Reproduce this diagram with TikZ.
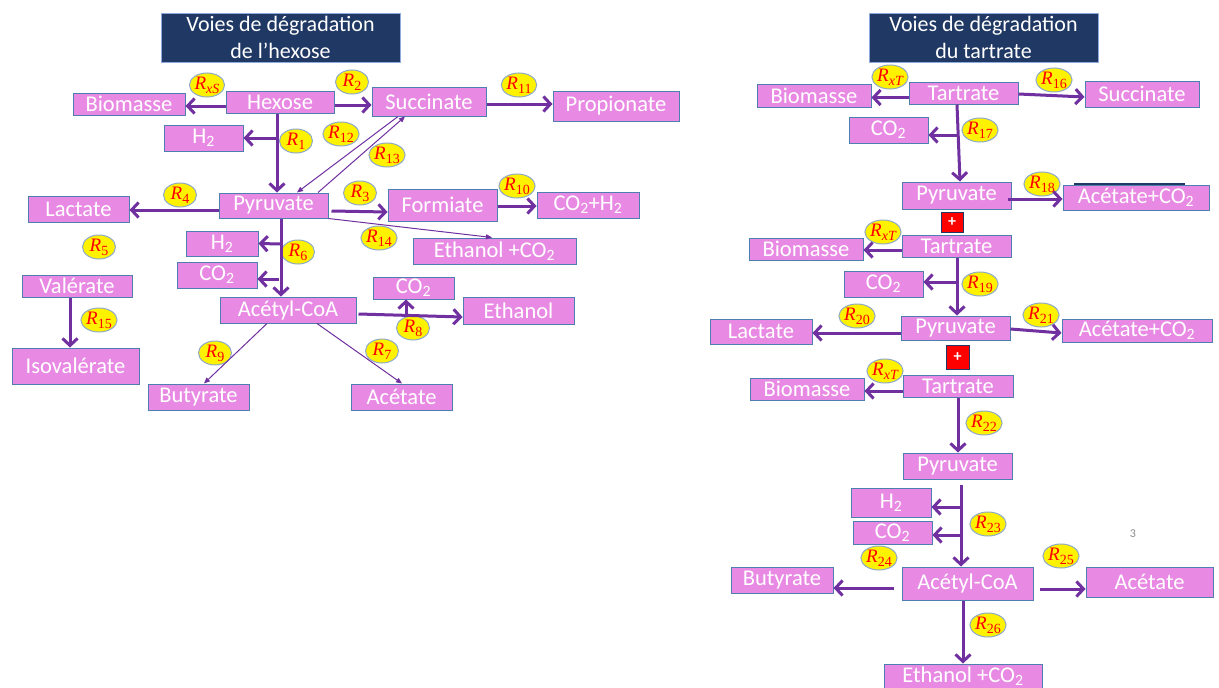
\documentclass[tikz,border=0pt]{standalone}
\usepackage{fontspec}
\setmainfont{Carlito}
\newfontfamily\rfont{Liberation Serif}
\usetikzlibrary{arrows.meta,shapes.geometric}
\definecolor{boxpink}{HTML}{E88AE4}
\definecolor{boxedge}{HTML}{4F7FB0}
\definecolor{arrcol}{HTML}{7030A0}
\definecolor{navy}{HTML}{203864}
\definecolor{navyedge}{HTML}{8FAADC}
\definecolor{elledge}{HTML}{8EA9C8}
\definecolor{pagegrey}{HTML}{8C8C8C}
\newcommand\RL[1]{{\rfont\itshape R}\raisebox{-4pt}{\fontsize{14}{14}\selectfont\rfont #1}}
\newcommand\mkbox[6]{\node[box,minimum width={(#4-#2)*1pt},minimum height={(#5-#3)*1pt}] (#1) at ({(#2+#4)/2},{(#3+#5)/2}) {#6};}
\newcommand\mkell[4]{\node[rell] (#1) at (#2,#3) {\RL{#4}};}
\begin{document}
\begin{tikzpicture}[x=1pt,y=-1pt,
  box/.style={rectangle,draw=boxedge,fill=boxpink,line width=1pt,text=white,inner sep=0pt,font=\fontsize{22.5}{24}\selectfont},
  tbox/.style={rectangle,draw=navyedge,fill=navy,line width=1pt,text=white,inner sep=0pt,align=center,font=\fontsize{22}{27}\selectfont},
  rell/.style={ellipse,draw=elledge,fill=yellow,line width=1pt,minimum width=33pt,minimum height=24pt,inner sep=0pt,text=red,font=\fontsize{19}{19}\selectfont},
  plusbox/.style={rectangle,draw=navy,fill=red,line width=1pt,text=white,inner sep=0pt,font=\fontsize{16}{16}\selectfont\bfseries},
  arr/.style={draw=arrcol,line width=3pt,-{Straight Barb[length=7pt,width=15pt]}},
  tarr/.style={draw=arrcol,line width=1pt,-{Triangle[length=6pt,width=5pt]}}]
\useasboundingbox (0,0) rectangle (1219,688);
\fill[white] (0,0) rectangle (1219,688);

% ---------- titles ----------
\node[tbox,minimum width=239pt,minimum height=49pt] (titleL) at (280.5,37.5) {Voies de dégradation\\de l’hexose};
\node[tbox,minimum width=229pt,minimum height=49pt] (titleR) at (983.5,37.5) {Voies de dégradation\\du tartrate};

% ---------- left ellipses ----------
\mkell{rxs}{207}{85}{\itshape xS}
\mkell{r2}{352}{82}{2}
\mkell{r1}{296}{141}{1}
\mkell{r12}{341}{134}{12}
\mkell{r13}{387}{155}{13}
\mkell{r4}{180}{195}{4}
\mkell{r3}{360}{193}{3}
\mkell{r11}{519}{85}{11}
\mkell{r10}{517}{186}{10}
\mkell{r14}{379}{238}{14}
\mkell{r5}{99}{247}{5}
\mkell{r6}{298}{252}{6}
\mkell{r15}{99}{320}{15}
\mkell{r8}{413}{328}{8}
\mkell{r9}{215}{353}{9}
\mkell{r7}{382}{351}{7}

% ---------- right ellipses ----------
\mkell{rxt1}{890}{77}{\itshape xT}
\mkell{r16}{1054}{80}{16}
\mkell{r17}{980}{130}{17}
\mkell{r18}{1042}{184}{18}
\mkell{rxt2}{883}{232}{\itshape xT}
\mkell{r19}{980}{284}{19}
\mkell{r20}{857}{316}{20}
\mkell{r21}{1041}{315}{21}
\mkell{rxt3}{885}{371}{\itshape xT}
\mkell{r22}{984}{423}{22}
\mkell{r23}{988}{524}{23}
\mkell{r24}{879}{558}{24}
\mkell{r25}{1061}{556}{25}
\mkell{r26}{988}{625}{26}

% ---------- left boxes ----------
\mkbox{biomL}{73}{93}{185}{115}{Biomasse}
\mkbox{hexose}{226}{91}{334}{113}{Hexose}
\mkbox{succL}{372}{87}{486}{116}{Succinate}
\mkbox{propio}{553}{91}{679}{121}{Propionate}
\mkbox{h2a}{164}{125}{243}{151}{H\textsubscript{2}}
\mkbox{lactL}{28}{196}{129}{222}{Lactate}
\mkbox{pyrL}{219}{193}{328}{218}{Pyruvate}
\mkbox{formi}{388}{189}{497}{221}{Formiate}
\mkbox{co2h2}{537}{192}{639}{218}{CO\textsubscript{2}+H\textsubscript{2}}
\mkbox{etco2L}{413}{238}{576}{264}{Ethanol +CO\textsubscript{2}}
\mkbox{h2b}{186}{231}{258}{256}{H\textsubscript{2}}
\mkbox{co2a}{177}{262}{257}{288}{CO\textsubscript{2}}
\mkbox{valer}{22}{275}{132}{297}{Valérate}
\mkbox{isov}{12}{348}{139}{384}{Isovalérate}
\mkbox{acoaL}{220}{297}{356}{323}{Acétyl-CoA}
\mkbox{co2b}{373}{277}{454}{299}{CO\textsubscript{2}}
\mkbox{ethan}{463}{297}{574}{324}{Ethanol}
\mkbox{butyL}{148}{384}{249}{410}{Butyrate}
\mkbox{acetL}{351}{384}{452}{410}{Acétate}

% ---------- right boxes ----------
\mkbox{biom1}{757}{84}{871}{107}{Biomasse}
\mkbox{tart1}{909}{82}{1018}{104}{Tartrate}
\mkbox{succR}{1085}{81}{1199}{107}{Succinate}
\mkbox{co2r1}{849}{117}{928}{143}{CO\textsubscript{2}}
\mkbox{pyr1}{902}{182}{1011}{209}{Pyruvate}
\fill[navy] (1074,182.5) rectangle (1185,186);
\mkbox{ac1}{1063}{185}{1209}{210}{Acétate+CO\textsubscript{2}}
\node[plusbox,minimum width=22pt,minimum height=20pt] (plus1) at (952,222) {+};
\mkbox{biom2}{749}{238}{863}{260}{Biomasse}
\mkbox{tart2}{902}{235}{1011}{257}{Tartrate}
\mkbox{co2r2}{844}{271}{923}{297}{CO\textsubscript{2}}
\mkbox{lactR}{710}{319}{812}{344}{Lactate}
\mkbox{pyr2}{901}{316}{1010}{340}{Pyruvate}
\mkbox{ac2}{1062}{319}{1212}{342}{Acétate+CO\textsubscript{2}}
\node[plusbox,minimum width=23pt,minimum height=24pt] (plus2) at (957.5,357) {+};
\mkbox{biom3}{750}{378}{864}{400}{Biomasse}
\mkbox{tart3}{903}{375}{1013}{397}{Tartrate}
\mkbox{pyr3}{903}{453}{1012}{479}{Pyruvate}
\mkbox{h2r}{851}{488}{931}{517}{H\textsubscript{2}}
\mkbox{co2r3}{853}{521}{932}{544}{CO\textsubscript{2}}
\mkbox{butyR}{731}{567}{833}{593}{Butyrate}
\mkbox{acoaR}{902}{567}{1033}{600}{Acétyl-CoA}
\mkbox{acetR}{1086}{567}{1213}{597}{Acétate}
\mkbox{etco2R}{884}{664}{1042}{689}{Ethanol +CO\textsubscript{2}}
\node[text=pagegrey,font=\fontsize{12}{12}\selectfont] (pnum) at (1133,534) {3};

% ---------- junction coordinates ----------
\coordinate (j1) at (277,138);
\coordinate (j2) at (281,244);
\coordinate (j3) at (279,279);
\coordinate (j4) at (406,315.5);
\coordinate (j5) at (958,135);
\coordinate (j6) at (957,282);
\coordinate (j7) at (961,507);
\coordinate (j8) at (961,535);

% ---------- left arrows ----------
\draw[arr] ([yshift=-4pt]hexose.west) -- ([yshift=-2pt]biomL.east);
\draw[arr] ([yshift=-3pt]hexose.east) -- ([yshift=-3.5pt]succL.west);
\draw[arr] ([xshift=-3pt]hexose.south) -- ([xshift=3.5pt]pyrL.north);
\draw[arr] (j1) -- (h2a.east);
\draw[arr] ([yshift=-2.5pt]succL.east) -- ([yshift=2pt]propio.west);
\draw[tarr] ([xshift=-31pt]succL.south) -- ([xshift=23.5pt]pyrL.north);
\draw[tarr] ([xshift=44.5pt]pyrL.north) -- ([xshift=-24pt]succL.south);
\draw[arr] ([yshift=-4.5pt]pyrL.west) -- ([yshift=-1pt]lactL.east);
\draw[arr] ([xshift=3pt,yshift=-5.5pt]pyrL.east) -- ([yshift=-7pt]formi.west);
\draw[tarr] (pyrL.south east) -- ([xshift=-2.5pt]etco2L.north);
\draw[arr] ([yshift=-1pt]formi.east) -- ([yshift=-1pt]co2h2.west);
\draw[arr] ([xshift=7.5pt]pyrL.south) -- ([xshift=-7pt]acoaL.north);
\draw[arr] (j2) -- (h2b.east);
\draw[arr] (j3) -- ([yshift=-4pt]co2a.east);
\draw[arr] ([xshift=2pt,yshift=-4pt]acoaL.east) -- ([yshift=-6.5pt]ethan.west);
\draw[arr] (j4) -- ([xshift=-7.5pt]co2b.south);
\draw[arr] ([xshift=-7pt]valer.south) -- ([xshift=-5.5pt]isov.north);
\draw[tarr] ([xshift=-21pt]acoaL.south) -- ([xshift=5.5pt]butyL.north);
\draw[tarr] ([xshift=29pt]acoaL.south) -- ([xshift=0.5pt]acetL.north);

% ---------- right arrows ----------
\draw[arr] ([yshift=-4.5pt]tart1.west) -- ([yshift=-2pt]biom1.east);
\draw[arr] ([yshift=-1pt]tart1.east) -- ([yshift=-3pt]succR.west);
\draw[arr] ([xshift=-6.5pt]tart1.south) -- ([xshift=3.5pt]pyr1.north);
\draw[arr] (j5) -- ([yshift=-5pt]co2r1.east);
\draw[arr] ([xshift=-4pt,yshift=-3.5pt]pyr1.east) -- ([yshift=-1.5pt]ac1.west);
\draw[arr] ([yshift=-4pt]tart2.west) -- ([yshift=-1pt]biom2.east);
\draw[arr] ([xshift=0.5pt]tart2.south) -- ([xshift=1.5pt]pyr2.north);
\draw[arr] (j6) -- ([yshift=2pt]co2r2.east);
\draw[arr] ([yshift=-5pt]pyr2.west) -- ([yshift=-1.5pt]lactR.east);
\draw[arr] ([yshift=-1pt]pyr2.east) -- ([yshift=-2.5pt]ac2.west);
\draw[arr] ([yshift=-5pt]tart3.west) -- ([yshift=-2pt]biom3.east);
\draw[arr] (tart3.south) -- ([xshift=0.5pt]pyr3.north);
\draw[arr] ([xshift=3.5pt,yshift=-5pt]pyr3.south) -- ([xshift=-6.5pt]acoaR.north);
\draw[arr] (j7) -- ([yshift=-4.5pt]h2r.east);
\draw[arr] (j8) -- ([yshift=-2.5pt]co2r3.east);
\draw[arr] ([xshift=-8pt,yshift=-4.5pt]acoaR.west) -- ([yshift=-8pt]butyR.east);
\draw[arr] ([xshift=6pt,yshift=-5.5pt]acoaR.east) -- ([yshift=-7pt]acetR.west);
\draw[arr] ([xshift=-4.5pt]acoaR.south) -- (etco2R.north);
\end{tikzpicture}
\end{document}
